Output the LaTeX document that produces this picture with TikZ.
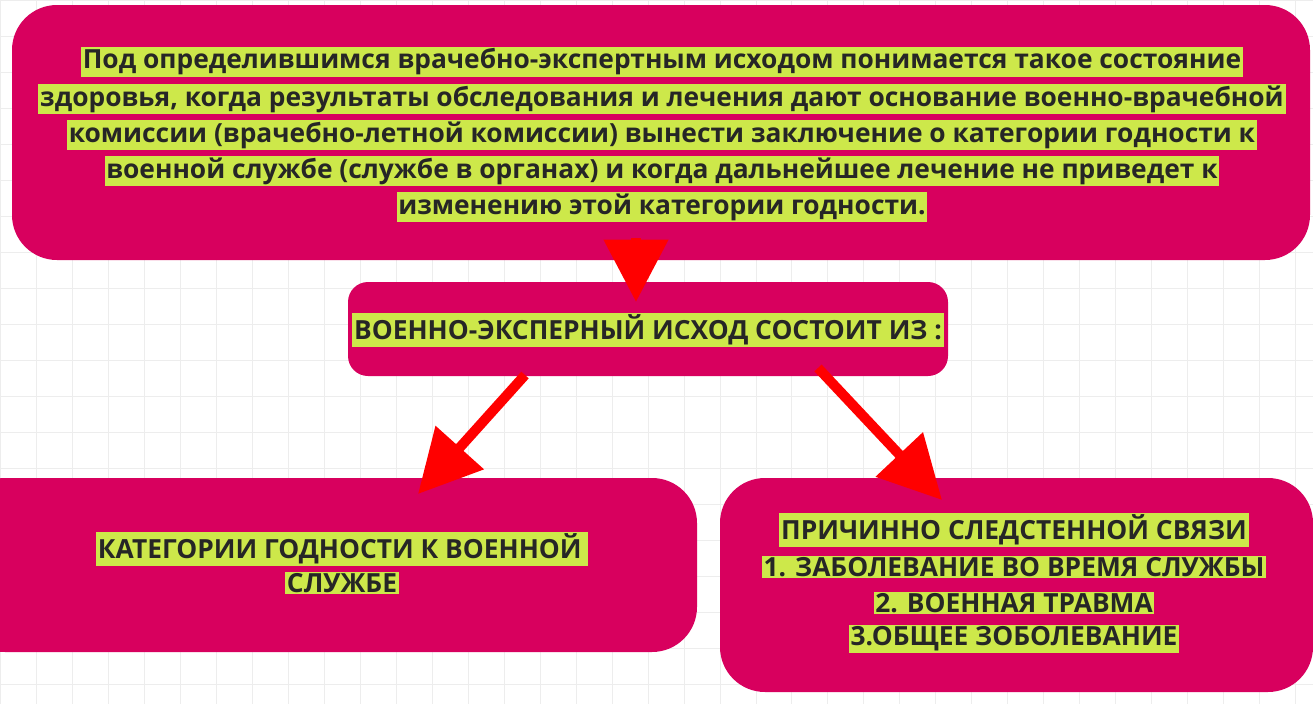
\documentclass[tikz,border=0pt]{standalone}
\usepackage{fontspec}
\setmainfont{Open Sans}
\usetikzlibrary{arrows.meta,positioning}
\definecolor{boxpink}{HTML}{D8005E}
\definecolor{marker}{HTML}{CDE84A}
\definecolor{gridgray}{HTML}{EDEDED}
\tikzset{
  panel/.style={fill=boxpink, rounded corners=0.9cm},
  hl/.style={fill=marker, inner sep=1pt, font=\bfseries\fontsize{15}{17}\selectfont, text=black!85},
  redarrow/.style={red, line width=0.2cm, -{Triangle[width=1.25cm,length=1.25cm]}}
}
\begin{document}
\begin{tikzpicture}[x=0.02cm,y=-0.02cm]
\useasboundingbox (0,0) rectangle (1313,704);
\fill[white] (0,0) rectangle (1313,704);
\draw[gridgray, step=0.72cm] (0,0) grid (1313,704);
% panels
\fill[panel] (12,5) rectangle (1310,260);
\fill[panel, rounded corners=0.4cm] (348,282) rectangle (948,376);
\fill[panel] (-40,478) rectangle (697,652);
\fill[panel] (720,478) rectangle (1313,692);
% top text
\node[hl] (t1) at (662,62) {Под определившимся врачебно-экспертным исходом понимается такое состояние};
\node[hl] (t2) at (662,99) {здоровья, когда результаты обследования и лечения дают основание военно-врачебной};
\node[hl] (t3) at (662,135) {комиссии (врачебно-летной комиссии) вынести заключение о категории годности к};
\node[hl] (t4) at (662,171) {военной службе (службе в органах) и когда дальнейшее лечение не приведет к};
\node[hl] (t5) at (662,207) {изменению этой категории годности.};
% middle
\node[hl] (mid) at (648,330) {ВОЕННО-ЭКСПЕРНЫЙ ИСХОД СОСТОИТ ИЗ :};
% left
\node[hl] (l1) at (342,549) {КАТЕГОРИИ ГОДНОСТИ К ВОЕННОЙ\,};
\node[hl] (l2) at (342,583) {СЛУЖБЕ};
% right
\node[hl] (r1) at (1014,530) {ПРИЧИННО СЛЕДСТЕННОЙ СВЯЗИ};
\node[hl] (r2) at (1014,567) {1. ЗАБОЛЕВАНИЕ ВО ВРЕМЯ СЛУЖБЫ};
\node[hl] (r3) at (1014,603) {2. ВОЕННАЯ ТРАВМА};
\node[hl] (r4) at (1014,639) {3.ОБЩЕЕ ЗОБОЛЕВАНИЕ};
% arrows
\coordinate (a0) at (636,238);
\coordinate (a1) at (636,302);
\coordinate (b0) at (525,375);
\coordinate (b1) at (418,494);
\coordinate (c0) at (818,368);
\coordinate (c1) at (942,500);
\draw[redarrow] (a0) -- (a1);
\draw[redarrow] (b0) -- (b1);
\draw[redarrow] (c0) -- (c1);
\end{tikzpicture}
\end{document}
